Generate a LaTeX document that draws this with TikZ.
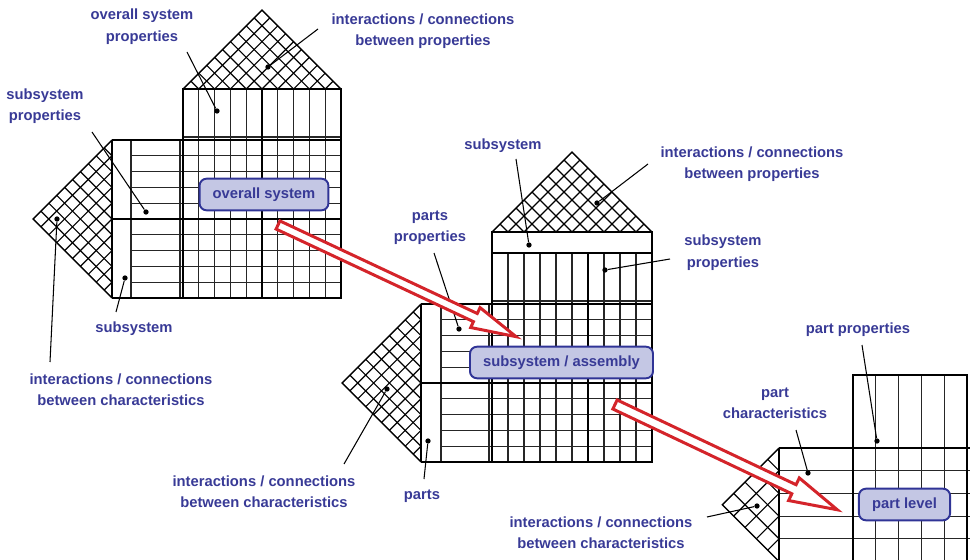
\documentclass[tikz,border=0pt]{standalone}
\usepackage{fontspec}
\setsansfont{Liberation Sans}
\usepackage{xcolor}
\definecolor{labelblue}{RGB}{56,58,150}
\definecolor{boxblue}{RGB}{48,52,150}
\definecolor{boxfill}{RGB}{196,199,228}
\definecolor{arrowred}{RGB}{212,36,42}
\tikzset{
  lbl/.style={text=labelblue, font=\sffamily\bfseries\fontsize{8.4}{12.2}\selectfont, align=center, inner sep=0pt},
  lvlbox/.style={draw=boxblue, fill=boxfill, line width=1.1pt, rounded corners=4pt, text=labelblue, font=\sffamily\bfseries\fontsize{8.4}{10}\selectfont, inner xsep=7.5pt, minimum height=18pt},
  gridline/.style={line width=0.6pt, draw=black!85},
  frame/.style={line width=0.75pt, draw=black},
  edgeline/.style={line width=1.3pt, draw=black},
  hatch/.style={line width=0.65pt, draw=black},
  leader/.style={line width=0.6pt, draw=black},
  dot/.style={circle, fill=black, minimum size=3pt, inner sep=0pt},
  hollowarrow/.style={draw=arrowred, fill=white, line width=1.7pt, line join=miter}
}

\begin{document}
\begin{tikzpicture}[x=0.02cm, y=-0.02cm]
\useasboundingbox (0,0) rectangle (970,560);
\clip (0,0) rectangle (970,560);

% overall system house
\begin{scope}
  \clip (183,89) -- (262,10) -- (341,89) -- cycle;
  \foreach \k in {0,...,10}
    \draw[hatch] ({183+15.8*\k},89) -- ++(-90,-90) ({183+15.8*\k},89) -- ++(90,-90);
\end{scope}
\draw[hatch] (183,89) -- (262,10) -- (341,89);
\begin{scope}
  \clip (112,140) -- (33,219) -- (112,298) -- cycle;
  \foreach \k in {0,...,10}
    \draw[hatch] (112,{140+15.8*\k}) -- ++(-90,-90) (112,{140+15.8*\k}) -- ++(-90,90);
\end{scope}
\draw[hatch] (112,140) -- (33,219) -- (112,298);
\foreach \k in {1,...,9}
  \draw[gridline] ({183+15.8*\k},89) -- ++(0,209);
\foreach \j in {1,2,3,4,6,7,8,9}
  \draw[gridline] (131,{140+15.8*\j}) -- (341,{140+15.8*\j});
\draw[gridline] (183,137) -- (341,137) (131,140) -- (131,298) (180,140) -- (180,298);
\draw[frame] (183,89) rectangle (341,298);
\draw[frame] (112,140) -- (341,140) (112,219) -- (341,219) (112,298) -- (183,298) (262,89) -- (262,298);
\draw[edgeline] (112,140) -- (112,298);

% subsystem house
\begin{scope}
  \clip (492,232) -- (572,152) -- (652,232) -- cycle;
  \foreach \k in {0,...,10}
    \draw[hatch] ({492+16*\k},232) -- ++(-90,-90) ({492+16*\k},232) -- ++(90,-90);
\end{scope}
\draw[hatch] (492,232) -- (572,152) -- (652,232);
\begin{scope}
  \clip (421,304) -- (342,383) -- (421,462) -- cycle;
  \foreach \k in {0,...,10}
    \draw[hatch] (421,{304+15.8*\k}) -- ++(-90,-90) (421,{304+15.8*\k}) -- ++(-90,90);
\end{scope}
\draw[hatch] (421,304) -- (342,383) -- (421,462);
\foreach \k in {1,...,9}
  \draw[gridline] ({492+16*\k},253) -- ++(0,209);
\foreach \j in {1,2,3,4,6,7,8,9}
  \draw[gridline] (441,{304+15.8*\j}) -- (652,{304+15.8*\j});
\draw[gridline] (492,301) -- (652,301) (441,304) -- (441,462) (489,304) -- (489,462);
\draw[frame] (492,232) rectangle (652,462);
\draw[frame] (492,253) -- (652,253) (421,304) -- (652,304) (421,383) -- (652,383) (421,462) -- (492,462) (588,253) -- (588,462);
\draw[edgeline] (421,304) -- (421,462);

% part house
\begin{scope}
  \clip (779,448) -- (722.25,504.75) -- (779,561.5) -- cycle;
  \foreach \k in {0,...,5}
    \draw[hatch] (779,{448+22.7*\k}) -- ++(-70,-70) (779,{448+22.7*\k}) -- ++(-70,70);
\end{scope}
\draw[hatch] (779,448) -- (722.25,504.75) -- (779,561.5);
\foreach \k in {1,...,4}
  \draw[gridline] ({853+22.8*\k},375) -- ++(0,190);
\foreach \j in {1,...,5}
  \draw[gridline] (779,{448+22.7*\j}) -- (970,{448+22.7*\j});
\draw[frame] (853,565) -- (853,375) -- (967,375) -- (967,565) (779,448) -- (970,448);
\draw[edgeline] (779,448) -- (779,565);

% labels and leaders
\node[lbl] (osprop) at (142,26.5) {overall system\\properties};
\coordinate (osprop-s) at (187,52);
\node[dot] (osprop-d) at (217,111) {};
\draw[leader] (osprop-s) -- (osprop-d);

\node[lbl] (osint) at (423,31) {interactions / connections\\between properties};
\coordinate (osint-s) at (318,29);
\node[dot] (osint-d) at (268,67) {};
\draw[leader] (osint-s) -- (osint-d);

\node[lbl] (ssprop) at (45,106) {subsystem\\properties};
\coordinate (ssprop-s) at (92,132);
\node[dot] (ssprop-d) at (146,212) {};
\draw[leader] (ssprop-s) -- (ssprop-d);

\node[lbl] (ss) at (134,329) {subsystem};
\coordinate (ss-s) at (116,312);
\node[dot] (ss-d) at (125,278) {};
\draw[leader] (ss-s) -- (ss-d);

\node[lbl] (osch) at (121,390) {interactions / connections\\between characteristics};
\coordinate (osch-s) at (50,362);
\node[dot] (osch-d) at (57,219) {};
\draw[leader] (osch-s) -- (osch-d);

\node[lbl] (sub) at (503,146) {subsystem};
\coordinate (sub-s) at (516,159);
\node[dot] (sub-d) at (529,245) {};
\draw[leader] (sub-s) -- (sub-d);

\node[lbl] (subint) at (752,164) {interactions / connections\\between properties};
\coordinate (subint-s) at (648,164);
\node[dot] (subint-d) at (597,203) {};
\draw[leader] (subint-s) -- (subint-d);

\node[lbl] (subprop) at (723,252.5) {subsystem\\properties};
\coordinate (subprop-s) at (670,259);
\node[dot] (subprop-d) at (605,270) {};
\draw[leader] (subprop-s) -- (subprop-d);

\node[lbl] (pprop) at (430,227.5) {parts\\properties};
\coordinate (pprop-s) at (434,253);
\node[dot] (pprop-d) at (459,329) {};
\draw[leader] (pprop-s) -- (pprop-d);

\node[lbl] (parts) at (422,496) {parts};
\coordinate (parts-s) at (424,479);
\node[dot] (parts-d) at (428,441) {};
\draw[leader] (parts-s) -- (parts-d);

\node[lbl] (subch) at (264,491.5) {interactions / connections\\between characteristics};
\coordinate (subch-s) at (344,464);
\node[dot] (subch-d) at (387,389) {};
\draw[leader] (subch-s) -- (subch-d);

\node[lbl] (ptprop) at (858,330) {part properties};
\coordinate (ptprop-s) at (862,345);
\node[dot] (ptprop-d) at (877,441) {};
\draw[leader] (ptprop-s) -- (ptprop-d);

\node[lbl] (ptchar) at (775,403) {part\\characteristics};
\coordinate (ptchar-s) at (796,430);
\node[dot] (ptchar-d) at (808,473) {};
\draw[leader] (ptchar-s) -- (ptchar-d);

\node[lbl] (ptint) at (601,532.5) {interactions / connections\\between characteristics};
\coordinate (ptint-s) at (707,517);
\node[dot] (ptint-d) at (757,506) {};
\draw[leader] (ptint-s) -- (ptint-d);

% level boxes
\node[lvlbox] (sys) at (264,194.5) {overall system};
\node[lvlbox] (asm) at (561.5,362.5) {subsystem / assembly};
\node[lvlbox] (part) at (904.5,504.5) {part level};

% hollow red arrows between levels
\begin{scope}[shift={(278,225)}, rotate=-25.13]
  \draw[hollowarrow] (0,-4.5) -- (218,-4.5) -- (218,-11) -- (263,0) -- (218,11) -- (218,4.5) -- (0,4.5) -- cycle;
\end{scope}
\begin{scope}[shift={(615,404.5)}, rotate=-25.34]
  \draw[hollowarrow] (0,-5) -- (198,-5) -- (198,-12.5) -- (246,0) -- (198,12.5) -- (198,5) -- (0,5) -- cycle;
\end{scope}
\end{tikzpicture}
\end{document}
